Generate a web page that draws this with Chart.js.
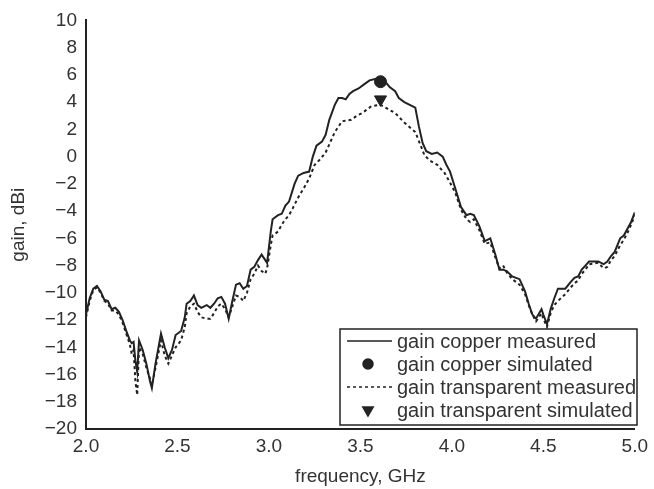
<!DOCTYPE html>
<html>
<head>
<meta charset="utf-8">
<script src="https://cdn.jsdelivr.net/npm/chart.js@4/dist/chart.umd.min.js"></script>
<style>
  html, body { margin: 0; padding: 0; background: #fff; }
  #wrap { width: 654px; height: 489px; }
</style>
</head>
<body>
<div id="wrap"><canvas id="gainChart" width="654" height="489"></canvas></div>
<script>
// gain copper measured
const copperFreq = [2.00, 2.02, 2.04, 2.06, 2.08, 2.10, 2.12, 2.14, 2.16, 2.18, 2.20, 2.22, 2.24, 2.25, 2.26, 2.27, 2.28, 2.29, 2.31, 2.33, 2.35, 2.36, 2.38, 2.41, 2.43, 2.45, 2.47, 2.49, 2.52, 2.54, 2.55, 2.57, 2.59, 2.61, 2.63, 2.66, 2.68, 2.70, 2.72, 2.74, 2.76, 2.78, 2.80, 2.82, 2.84, 2.86, 2.88, 2.90, 2.92, 2.94, 2.96, 2.98, 2.99, 3.01, 3.02, 3.05, 3.07, 3.09, 3.11, 3.14, 3.16, 3.19, 3.22, 3.24, 3.26, 3.29, 3.31, 3.33, 3.36, 3.38, 3.40, 3.42, 3.44, 3.46, 3.49, 3.52, 3.55, 3.58, 3.61, 3.63, 3.66, 3.69, 3.71, 3.74, 3.77, 3.80, 3.82, 3.84, 3.86, 3.89, 3.92, 3.95, 3.97, 3.99, 4.02, 4.05, 4.08, 4.10, 4.12, 4.15, 4.18, 4.21, 4.24, 4.26, 4.28, 4.30, 4.33, 4.37, 4.40, 4.42, 4.44, 4.46, 4.49, 4.50, 4.52, 4.54, 4.56, 4.58, 4.62, 4.65, 4.67, 4.69, 4.71, 4.73, 4.75, 4.80, 4.83, 4.85, 4.87, 4.89, 4.92, 4.94, 4.96, 4.98, 5.00];
const copperGain = [-11.6, -10.4, -9.7, -9.5, -9.9, -10.5, -10.6, -11.2, -11.1, -11.4, -12.0, -12.8, -13.5, -13.7, -13.6, -15.0, -15.8, -13.5, -14.2, -15.2, -16.5, -17.0, -15.2, -13.0, -14.0, -14.8, -14.2, -13.1, -12.8, -11.8, -10.8, -10.6, -10.2, -10.9, -11.1, -10.9, -11.1, -10.8, -10.4, -10.3, -10.8, -11.9, -10.6, -9.4, -9.3, -9.7, -9.5, -8.3, -8.1, -7.6, -7.2, -7.6, -7.8, -5.5, -4.6, -4.3, -4.2, -3.6, -3.3, -2.0, -1.4, -1.2, -1.1, 0.0, 0.8, 1.1, 1.6, 2.7, 3.8, 4.3, 4.3, 4.2, 4.6, 4.8, 5.0, 5.3, 5.6, 5.7, 5.6, 5.6, 5.1, 4.8, 4.3, 4.0, 3.8, 3.6, 2.2, 1.0, 0.4, 0.2, 0.3, 0.0, -0.6, -1.1, -2.4, -3.7, -4.3, -4.2, -4.3, -5.1, -6.2, -6.0, -7.3, -8.3, -8.3, -8.4, -8.8, -9.0, -9.9, -10.8, -11.6, -11.9, -11.2, -11.6, -12.3, -11.2, -10.4, -9.7, -9.7, -9.2, -8.9, -8.8, -8.3, -8.0, -7.7, -7.7, -7.9, -7.7, -7.3, -7.0, -6.0, -5.8, -5.3, -4.8, -4.1];

// gain transparent measured
const transFreq = [2.00, 2.02, 2.04, 2.06, 2.08, 2.10, 2.12, 2.14, 2.16, 2.18, 2.20, 2.22, 2.24, 2.25, 2.26, 2.27, 2.28, 2.29, 2.31, 2.33, 2.35, 2.36, 2.38, 2.41, 2.43, 2.45, 2.47, 2.49, 2.52, 2.54, 2.55, 2.57, 2.59, 2.61, 2.63, 2.66, 2.68, 2.70, 2.72, 2.74, 2.76, 2.78, 2.80, 2.82, 2.84, 2.86, 2.88, 2.90, 2.92, 2.94, 2.96, 2.98, 2.99, 3.01, 3.02, 3.05, 3.07, 3.09, 3.11, 3.13, 3.16, 3.20, 3.22, 3.25, 3.28, 3.31, 3.34, 3.36, 3.40, 3.45, 3.48, 3.51, 3.56, 3.61, 3.65, 3.69, 3.74, 3.80, 3.83, 3.85, 3.88, 3.92, 3.96, 3.99, 4.02, 4.05, 4.08, 4.10, 4.12, 4.15, 4.18, 4.21, 4.24, 4.26, 4.28, 4.30, 4.33, 4.37, 4.40, 4.42, 4.44, 4.46, 4.49, 4.50, 4.52, 4.54, 4.56, 4.58, 4.62, 4.65, 4.67, 4.69, 4.71, 4.73, 4.75, 4.80, 4.83, 4.85, 4.87, 4.89, 4.92, 4.94, 4.96, 4.98, 5.00];
const transGain = [-11.8, -10.6, -9.8, -9.6, -10.0, -10.6, -10.8, -11.3, -11.3, -11.6, -12.2, -13.0, -13.8, -14.5, -14.2, -16.5, -17.5, -14.0, -14.5, -15.5, -16.3, -16.8, -15.5, -13.5, -14.6, -15.2, -14.6, -14.0, -13.5, -12.5, -11.5, -11.0, -10.8, -11.4, -11.8, -11.9, -11.9, -11.5, -11.0, -10.8, -11.2, -11.8, -11.0, -10.2, -10.3, -10.6, -10.0, -9.0, -8.6, -8.0, -8.4, -8.6, -8.2, -6.5, -5.8, -5.5, -5.0, -4.6, -4.3, -3.8, -3.0, -2.1, -1.6, -0.6, -0.2, 0.3, 1.2, 1.8, 2.6, 2.7, 3.0, 3.2, 3.7, 3.8, 3.5, 3.2, 2.5, 1.8, 0.8, 0.1, -0.3, -0.6, -1.2, -1.9, -2.7, -3.9, -4.6, -4.8, -4.6, -5.4, -6.4, -6.3, -7.5, -8.2, -8.0, -8.5, -9.0, -9.4, -10.1, -10.9, -11.6, -12.1, -11.5, -11.9, -12.5, -11.5, -10.9, -10.6, -10.1, -9.6, -9.3, -9.1, -8.6, -8.3, -7.9, -7.8, -8.2, -8.1, -7.6, -7.3, -6.5, -6.1, -5.6, -5.0, -4.3];

// simulated values at the resonance
const simFreq = [3.61];
const copperSim = [5.5];
const transSim = [4.2];

const xTicks = [2.0, 2.5, 3.0, 3.5, 4.0, 4.5, 5.0];
const yTicks = [10, 8, 6, 4, 2, 0, -2, -4, -6, -8, -10, -12, -14, -16, -18, -20];

const ink = '#222';
const textCol = '#333';
const FONT = '"Liberation Sans", Arial, sans-serif';

function pts(xs, ys) {
    return xs.map((x, i) => ({ x: x, y: ys[i] }));
}

// legend drawn as a boxed key inside the plot, lower right
const boxLegend = {
    id: 'boxLegend',
    afterDatasetsDraw(chart) {
        const ctx = chart.ctx;
        const x0 = 340, y0 = 329, x1 = 637, y1 = 425;
        const rows = [341, 364, 387, 410];
        ctx.save();
        ctx.fillStyle = '#fff';
        ctx.fillRect(x0, y0, x1 - x0, y1 - y0);
        ctx.strokeStyle = ink;
        ctx.lineWidth = 1.5;
        ctx.strokeRect(x0, y0, x1 - x0, y1 - y0);
        chart.data.datasets.forEach((ds, i) => {
            const y = rows[i];
            ctx.strokeStyle = ink;
            ctx.fillStyle = ink;
            if (ds.showLine) {
                ctx.lineWidth = 1.5;
                ctx.setLineDash(ds.borderDash || []);
                ctx.beginPath();
                ctx.moveTo(347, y);
                ctx.lineTo(392, y);
                ctx.stroke();
                ctx.setLineDash([]);
            } else {
                Chart.helpers.drawPoint(ctx, {
                    pointStyle: ds.pointStyle,
                    rotation: ds.pointRotation || 0,
                    radius: ds.pointRadius - 1,
                    borderWidth: 1
                }, 368, y);
            }
            ctx.fillStyle = textCol;
            ctx.font = '20px ' + FONT;
            ctx.textAlign = 'left';
            ctx.textBaseline = 'middle';
            ctx.fillText(ds.label, 397, y + 1);
        });
        ctx.restore();
    }
};

const ctx = document.getElementById('gainChart').getContext('2d');
const gainChart = new Chart(ctx, {
    type: 'scatter',
    data: {
        datasets: [{
            label: 'gain copper measured',
            data: pts(copperFreq, copperGain),
            showLine: true,
            borderColor: ink,
            borderWidth: 2,
            pointRadius: 0,
            tension: 0
        }, {
            label: 'gain copper simulated',
            data: pts(simFreq, copperSim),
            showLine: false,
            pointStyle: 'circle',
            pointRadius: 6,
            backgroundColor: ink,
            borderColor: ink
        }, {
            label: 'gain transparent measured',
            data: pts(transFreq, transGain),
            showLine: true,
            borderColor: ink,
            borderWidth: 2,
            borderDash: [3, 3],
            pointRadius: 0,
            tension: 0
        }, {
            label: 'gain transparent simulated',
            data: pts(simFreq, transSim),
            showLine: false,
            pointStyle: 'triangle',
            pointRotation: 180,
            rotation: 180,
            pointRadius: 7,
            backgroundColor: ink,
            borderColor: ink
        }]
    },
    options: {
        responsive: false,
        animation: false,
        layout: { padding: { top: 17, right: 16, left: 0, bottom: 0 } },
        scales: {
            x: {
                type: 'linear',
                min: 2.0,
                max: 5.0,
                afterBuildTicks: (s) => { s.ticks = xTicks.map(v => ({ value: v })); },
                afterFit: (s) => { s.height = 60; },
                grid: { display: false, drawTicks: false },
                border: { display: true, color: ink, width: 2 },
                ticks: {
                    padding: 6,
                    color: textCol,
                    font: { family: FONT, size: 19 },
                    callback: (v) => v.toFixed(1)
                },
                title: {
                    display: true,
                    text: 'frequency, GHz',
                    color: textCol,
                    font: { family: FONT, size: 19 },
                    padding: { top: 0, bottom: 1 }
                }
            },
            y: {
                min: -20,
                max: 10,
                afterBuildTicks: (s) => { s.ticks = yTicks.map(v => ({ value: v })); },
                afterFit: (s) => { s.width = 86; },
                grid: { display: false, drawTicks: false },
                border: { display: true, color: ink, width: 2 },
                ticks: {
                    padding: 9,
                    color: textCol,
                    font: { family: FONT, size: 19 },
                    callback: (v) => (v < 0 ? '\u2212' + Math.abs(v) : String(v))
                },
                title: {
                    display: true,
                    text: 'gain, dBi',
                    color: textCol,
                    font: { family: FONT, size: 19 },
                    padding: { top: 7, bottom: 0 }
                }
            }
        },
        plugins: {
            legend: { display: false },
            tooltip: { enabled: false }
        }
    },
    plugins: [boxLegend]
});
</script>
</body>
</html>
